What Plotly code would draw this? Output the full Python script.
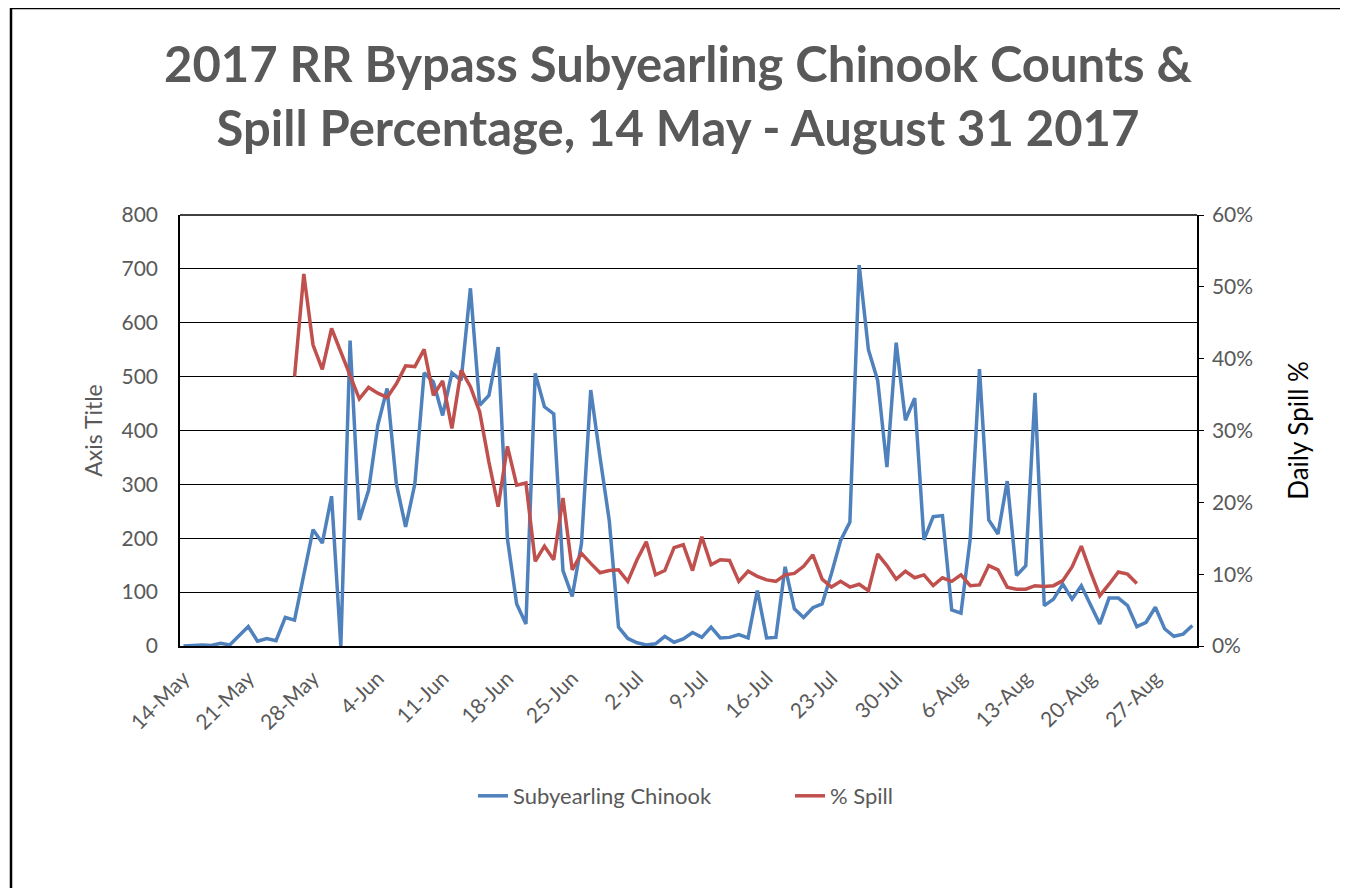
import pandas as pd
import plotly.graph_objects as go

start_date = "2017-05-14"
n_days = 110
dates = pd.date_range(start_date, periods=n_days, freq="D")

chinook = [
    0, 1, 2, 1, 5, 2, 19, 36, 9, 14,
    10, 53, 48, 132, 216, 191, 278, 0, 567, 234,
    289, 410, 478, 301, 221, 301, 507, 490, 428, 507,
    493, 664, 447, 465, 555, 199, 78, 41, 506, 444,
    431, 140, 92, 190, 475, 351, 233, 35, 14, 6,
    2, 4, 18, 7, 13, 25, 16, 35, 15, 16,
    21, 15, 103, 15, 16, 147, 69, 53, 71, 78,
    134, 196, 230, 707, 550, 493, 332, 563, 419, 460,
    197, 240, 242, 67, 61, 199, 514, 234, 208, 306,
    131, 149, 470, 75, 87, 115, 87, 112, 78, 41,
    89, 89, 75, 36, 44, 72, 32, 18, 22, 38,
]

spill_pct = [None] * 12 + [
    37.5, 51.8, 41.9, 38.5, 44.2, 41.0, 37.5, 34.4, 36.0, 35.2,
    34.6, 36.5, 39.0, 38.9, 41.3, 34.9, 36.9, 30.3, 38.4, 36.1,
    32.6, 25.6, 19.4, 27.8, 22.4, 22.7, 11.8, 13.9, 12.0, 20.6,
    10.6, 12.9, 11.5, 10.2, 10.5, 10.6, 9.0, 12.0, 14.5, 9.9,
    10.5, 13.7, 14.1, 10.5, 15.2, 11.3, 12.0, 11.9, 9.0, 10.4,
    9.7, 9.2, 9.0, 9.9, 10.1, 11.1, 12.7, 9.3, 8.2, 9.0,
    8.2, 8.6, 7.7, 12.8, 11.2, 9.3, 10.4, 9.5, 9.9, 8.4,
    9.5, 9.0, 9.9, 8.4, 8.5, 11.2, 10.6, 8.2, 7.9, 7.9,
    8.4, 8.3, 8.4, 9.1, 11.0, 13.9, 10.3, 7.0, 8.6, 10.3,
    10.0, 8.7,
] + [None] * 6

tick_dates = ["2017-05-14", "2017-05-21", "2017-05-28", "2017-06-04", "2017-06-11",
              "2017-06-18", "2017-06-25", "2017-07-02", "2017-07-09", "2017-07-16",
              "2017-07-23", "2017-07-30", "2017-08-06", "2017-08-13", "2017-08-20",
              "2017-08-27"]
tick_labels = ["14-May", "21-May", "28-May", "4-Jun", "11-Jun", "18-Jun", "25-Jun",
               "2-Jul", "9-Jul", "16-Jul", "23-Jul", "30-Jul", "6-Aug", "13-Aug",
               "20-Aug", "27-Aug"]

FONT = "Lato, Carlito, Calibri, sans-serif"
GRAY = "#595959"

fig = go.Figure()
fig.add_trace(go.Scatter(x=dates, y=chinook, mode="lines", name="Subyearling Chinook",
                         line=dict(color="#4F81BD", width=3.5)))
fig.add_trace(go.Scatter(x=dates, y=spill_pct, mode="lines", name="% Spill",
                         yaxis="y2", connectgaps=False,
                         line=dict(color="#C0504D", width=3.5)))

# page has an 8px body margin; figure coordinates = page coordinates - 8
OFF = 8
W, H = 1340, 880
L, R, T, B = 180 - OFF, 1197 - OFF, 215 - OFF, 646 - OFF
pw, ph = R - L, B - T


def px(xpage):
    return (xpage - OFF - L) / pw


def py(ypage):
    return (B - (ypage - OFF)) / ph


fig.update_layout(
    width=W, height=H,
    margin=dict(l=L, r=W - R, t=T, b=H - B),
    paper_bgcolor="white", plot_bgcolor="white",
    font=dict(family=FONT, color=GRAY, size=21),
    title=dict(
        text="2017 RR Bypass Subyearling Chinook Counts &<br>Spill Percentage, 14 May - August 31 2017",
        font=dict(family=FONT, size=49, color=GRAY, weight="bold"),
        x=0.5, xanchor="center", xref="container",
        y=1 - 74 / H, yanchor="middle", yref="container",
    ),
    xaxis=dict(
        range=[pd.Timestamp(start_date) - pd.Timedelta(hours=9),
               dates[-1] + pd.Timedelta(hours=12)],
        tickvals=tick_dates, ticktext=tick_labels, tickangle=-45,
        showgrid=False, showline=True, linecolor="black", linewidth=1.5,
        ticks="", tickfont=dict(size=21, color=GRAY), automargin=False,
        ticklabelstandoff=10,
    ),
    yaxis=dict(
        range=[0, 800], dtick=100, showgrid=True, gridcolor="black", gridwidth=1.3,
        showline=True, linecolor="black", linewidth=1.5, zeroline=False,
        ticks="", tickfont=dict(size=21, color=GRAY), ticklabelstandoff=16,
        title=dict(text="Axis Title", font=dict(size=23, color=GRAY), standoff=12),
        automargin=False,
    ),
    yaxis2=dict(
        range=[0, 60], dtick=10, ticksuffix="%", overlaying="y", side="right",
        showgrid=False, showline=True, linecolor="black", linewidth=1.5, zeroline=False,
        ticks="outside", ticklen=5, tickcolor="black", ticklabelstandoff=4,
        tickfont=dict(size=21, color=GRAY),
        title=dict(text="Daily Spill %", font=dict(size=26, color="black"), standoff=38),
        automargin=False,
    ),
    legend=dict(
        orientation="h", x=px(473), xanchor="left", y=py(796), yanchor="middle",
        font=dict(size=22, color=GRAY), bgcolor="rgba(0,0,0,0)",
        entrywidth=272, entrywidthmode="pixels",
    ),
    showlegend=True,
)

# top border of plot area
fig.add_shape(type="line", xref="paper", yref="paper", x0=0, x1=1, y0=1, y1=1,
              line=dict(color="black", width=1.5))
# outer chart frame
fig.add_shape(type="rect", xref="paper", yref="paper",
              x0=px(11), x1=px(1343), y0=py(8), y1=py(900),
              line=dict(color="black", width=2.5), fillcolor="rgba(0,0,0,0)", layer="below")

fig.write_html("out.html")
